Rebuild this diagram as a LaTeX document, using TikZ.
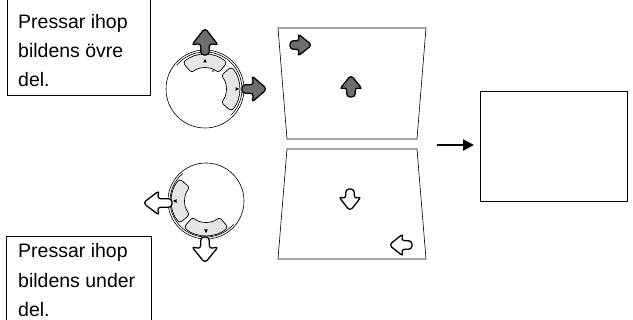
\documentclass[tikz,border=0pt]{standalone}
\usepackage{fontspec}
\setmainfont{Liberation Sans}
\usetikzlibrary{arrows.meta}
\definecolor{arrgray}{HTML}{6E6E6E}
\definecolor{padgray}{HTML}{E6E6E6}
% x y angle L headlength halfwidth fill
\newcommand\blockarrow[7]{%
  \begin{scope}[shift={(#1,#2)},rotate=#3]
    \filldraw[fill=#7,draw=black,line width=1.3pt,rounded corners=3.5pt,line join=round]
      (0,-4.3) -- ({#4-#5},-4.3) -- ({#4-#5-2.5},-#6) -- (#4,0) -- ({#4-#5-2.5},#6) -- ({#4-#5},4.3) -- (0,4.3) -- cycle;
  \end{scope}}
% cx cy a1 a2
\newcommand\padshape[4]{%
  \begin{scope}[shift={(#1,#2)}]
    \filldraw[fill=padgray,draw=black,line width=0.7pt,rounded corners=3pt]
      (#3:34.5) arc[start angle=#3,end angle=#4,radius=34.5] -- (#4:21) arc[start angle=#4,end angle=#3,radius=21] -- cycle;
  \end{scope}}
\tikzset{
  txt/.style={anchor=base west,inner sep=0pt,font=\fontsize{19.5}{22}\selectfont},
  frame/.style={draw=black,line width=0.8pt},
  thin/.style={draw=black,line width=0.6pt},
}
\begin{document}
\begin{tikzpicture}[x=1pt,y=-1pt]
\useasboundingbox (0,0) rectangle (633,320);
% text boxes
\draw[frame] (7,-2) rectangle (150,95);
\node[txt] (t1) at (18,29) {Pressar ihop};
\node[txt] (t2) at (18,58) {bildens övre};
\node[txt] (t3) at (18,87) {del.};
\draw[frame] (6,236) rectangle (151,324);
\node[txt] (b1) at (18,258) {Pressar ihop};
\node[txt] (b2) at (18,288) {bildens under};
\node[txt] (b3) at (18,317) {del.};
% top control
\draw[thin] (205,89) circle[radius=39];
\draw[thin] (205,89) ++(-140:37) arc[start angle=-140,end angle=45,radius=37];
\padshape{205}{89}{-130}{-50}
\padshape{205}{89}{-40}{40}
\fill (205,59) -- (203.2,62.5) -- (206.8,62.5) -- cycle;
\fill (239,89) -- (235.5,87.2) -- (235.5,90.8) -- cycle;
\fill (213,71) circle[radius=0.9];
\blockarrow{205}{55}{90}{27}{15}{13.5}{arrgray}
\blockarrow{242}{89}{0}{25}{13}{13.5}{arrgray}
% bottom control
\draw[thin] (206,201) circle[radius=38];
\draw[thin] (206,201) ++(40:36) arc[start angle=40,end angle=230,radius=36];
\padshape{206}{201}{140}{220}
\padshape{206}{201}{50}{130}
\fill (173,201) -- (176.5,199.2) -- (176.5,202.8) -- cycle;
\fill (206,233) -- (204.2,229.5) -- (207.8,229.5) -- cycle;
\blockarrow{172}{203}{180}{29}{14}{12.5}{white}
\blockarrow{205}{237}{-90}{26}{14}{13.5}{white}
% trapezoids
\draw[thin] (278,28) -- (426,28) -- (417,139) -- (287,139) -- cycle;
\draw[thin] (287,149) -- (417,149) -- (426,259) -- (278,259) -- cycle;
\blockarrow{290}{45}{0}{22}{12}{11.5}{arrgray}
\blockarrow{351}{97}{90}{22}{12}{11.5}{arrgray}
\blockarrow{350}{189}{-90}{22}{12}{11.5}{white}
\blockarrow{412}{245}{180}{23}{12}{11.5}{white}
% result
\node[draw=black,line width=0.8pt,minimum width=147pt,minimum height=110pt,inner sep=0pt,anchor=north west] (res) at (480,91) {};
\coordinate (a0) at (437,145);
\draw[line width=2.2pt,-{Triangle[length=11pt,width=11pt]},shorten >=6pt] (a0) -- (a0 -| res.west);
\end{tikzpicture}
\end{document}
